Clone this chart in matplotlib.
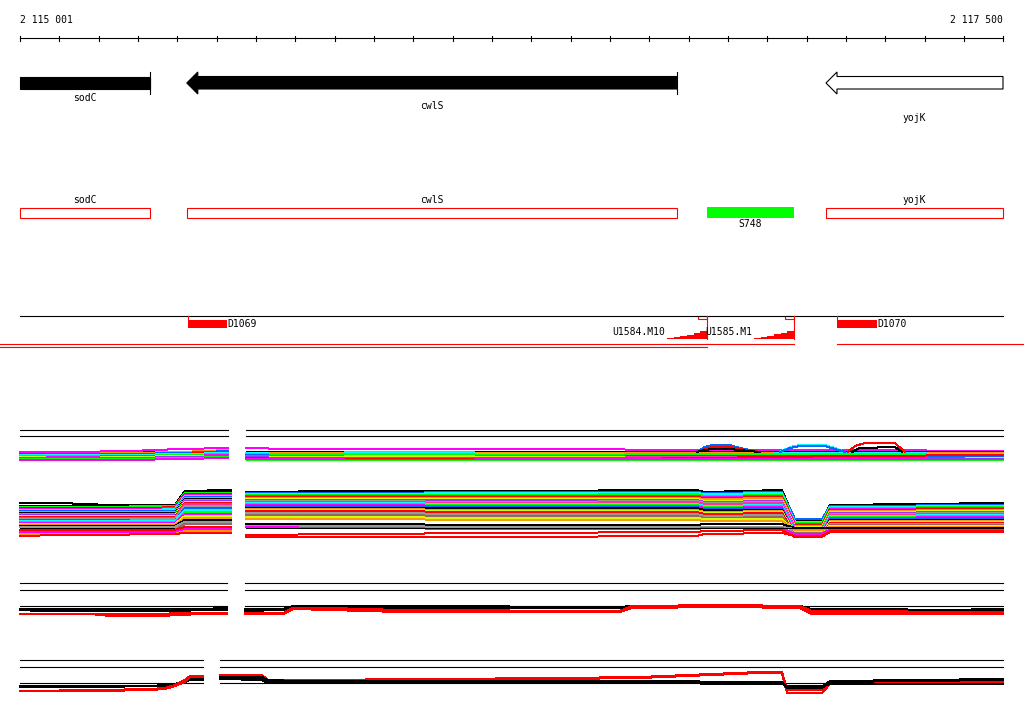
import matplotlib
matplotlib.use("Agg")
import matplotlib.pyplot as plt
from matplotlib.patches import Polygon, Rectangle

# window shown (bp)
WIN_START, WIN_END = 2115001, 2117500

# annotated genes (all on minus strand)
gene_names = ["sodC", "cwlS", "yojK"]
gene_start = [2114900, 2115425, 2117050]
gene_end = [2115331, 2116671, 2117560]
gene_filled = [True, True, False]

# second track: other features
sig_name = "S748"
sig_start, sig_end = 2116747, 2116969

# transcription units / breakpoints
down_names = ["D1069", "D1070"]
down_start = [2115428, 2117078]
down_end = [2115527, 2117180]
up_names = ["U1584.M10", "U1585.M1"]
up_start = [2116646, 2116867]
up_end = [2116747, 2116969]
up_scores = [[1, 2, 3, 4, 6, 8], [1, 2, 3, 5, 6, 8]]
tu_a = [(2114900, 2116969), (2117078, 2117600)]
tu_b = [(2114900, 2116747)]

# ---- panel 1 (many conditions) ----
p1_ref = [110, 104]
p1_segs = [(2115001, 2115530), (2115576, 2117500)]

p1_top_knots_l = [2115001, 2115128, 2115281, 2115408, 2115530]
p1_top_l = [
    ("k", [89, 89, 89, 89, 89]),
    ("k", [88, 88, 88, 88, 88]),
    ("o", [87, 87, 87, 88, 90]),
    ("b", [86, 86, 86, 87, 89]),
    ("r", [86, 85, 85, 86, 88]),
    ("c", [85, 85, 85, 86, 87]),
    ("g", [84, 84, 84, 85, 86]),
    ("m", [83, 83, 84, 84, 85]),
    ("y", [83, 82, 83, 84, 84]),
    ("p", [82, 82, 82, 83, 84]),
    ("g", [81, 81, 81, 82, 83]),
    ("m", [80, 80, 80, 81, 82]),
    ("m", [88, 88, 89, 91, 92]),
]

p1_top_knots_r = [2115576, 2115687, 2115967, 2116348, 2116729, 2117111, 2117500]
p1_top_r = [
    ("m", [92, 91, 91, 91, 90, 90, 89]),
    ("k", [89, 89, 89, 89, 89, 89, 89]),
    ("k", [88, 88, 88, 88, 88, 88, 88]),
    ("o", [87, 87, 88, 87, 87, 87, 87]),
    ("c", [87, 86, 87, 86, 86, 87, 86]),
    ("e", [86, 86, 86, 85, 86, 86, 85]),
    ("g", [85, 85, 85, 85, 85, 85, 84]),
    ("b", [85, 84, 84, 84, 84, 84, 83]),
    ("i", [84, 84, 83, 84, 83, 83, 82]),
    ("y", [83, 83, 84, 83, 82, 82, 82]),
    ("p", [83, 82, 82, 82, 82, 83, 81]),
    ("r", [82, 81, 81, 80, 82, 84, 85]),
    ("m", [81, 81, 80, 81, 81, 81, 80]),
    ("g", [80, 80, 80, 80, 80, 80, 80]),
]

# profiles bulging above the top cluster
p1_bumps = [
    ("b", [2116722, 2116742, 2116760, 2116806, 2116831, 2116882], [88, 93, 95, 95, 92, 88]),
    ("r", [2116722, 2116742, 2116760, 2116806, 2116831, 2116882], [88, 91, 93, 93, 91, 88]),
    ("k", [2116722, 2116742, 2116760, 2116806, 2116831, 2116882], [88, 90, 91, 91, 90, 88]),
    ("c", [2116933, 2116959, 2116984, 2117047, 2117073, 2117098], [88, 93, 95, 95, 92, 88]),
    ("b", [2116933, 2116959, 2116984, 2117047, 2117073, 2117098], [88, 92, 94, 94, 91, 88]),
    ("r", [2117106, 2117124, 2117149, 2117225, 2117251], [88, 94, 97, 97, 88]),
    ("k", [2117116, 2117136, 2117225, 2117243], [88, 92, 93, 88]),
]

p1_bot_knots_l = [2115001, 2115103, 2115230, 2115331, 2115395, 2115420, 2115537]
p1_bot_l = [
    ("k", [37, 37, 35, 35, 35, 49, 50]),
    ("k", [34, 34, 34, 34, 35, 48, 48]),
    ("g", [33, 33, 33, 34, 34, 47, 47]),
    ("r", [32, 32, 32, 32, 33, 46, 46]),
    ("m", [31, 31, 31, 31, 32, 45, 45]),
    ("c", [30, 30, 30, 30, 31, 44, 44]),
    ("b", [29, 29, 29, 29, 29, 43, 43]),
    ("o", [28, 28, 28, 28, 28, 42, 42]),
    ("k", [27, 27, 27, 27, 27, 41, 41]),
    ("g", [26, 26, 26, 26, 26, 40, 40]),
    ("p", [25, 25, 25, 25, 25, 39, 39]),
    ("y", [24, 24, 24, 24, 24, 38, 38]),
    ("r", [23, 23, 23, 23, 23, 37, 37]),
    ("i", [22, 22, 22, 22, 22, 36, 36]),
    ("e", [21, 21, 21, 21, 21, 34, 34]),
    ("b", [20, 20, 20, 19, 19, 32, 32]),
    ("c", [19, 19, 19, 19, 19, 30, 30]),
    ("g", [18, 18, 18, 18, 18, 28, 28]),
    ("m", [17, 17, 17, 17, 17, 26, 26]),
    ("y", [16, 16, 16, 16, 16, 24, 24]),
    ("o", [15, 15, 15, 15, 15, 22, 22]),
    ("k", [14, 14, 14, 14, 14, 20, 20]),
    ("e", [13, 13, 13, 13, 13, 18, 18]),
    ("k", [12, 12, 12, 12, 12, 12, 12]),
    ("n", [10, 10, 10, 10, 10, 16, 16]),
    ("r", [10, 10, 10, 10, 10, 13, 13]),
    ("m", [8, 8, 8, 8, 8, 11, 11]),
    ("o", [6, 6, 6, 6, 6, 9, 9]),
    ("r", [4, 5, 5, 6, 6, 7, 7]),
]

p1_bot_knots_r = [2115576, 2115840, 2116221, 2116722, 2116742, 2116938,
                  2116971, 2117040, 2117060, 2117500]
p1_bot_r = [
    ("k", [48, 49, 49, 50, 48, 50, 20, 20, 35, 37]),
    ("b", [47, 47, 48, 48, 47, 48, 21, 21, 34, 35]),
    ("c", [46, 46, 47, 47, 46, 47, 18, 18, 33, 34]),
    ("g", [45, 45, 45, 46, 44, 45, 17, 17, 32, 33]),
    ("m", [44, 44, 44, 44, 43, 44, 16, 16, 31, 32]),
    ("r", [43, 43, 43, 43, 42, 43, 15, 15, 30, 31]),
    ("o", [42, 42, 42, 42, 41, 42, 14, 14, 29, 30]),
    ("y", [41, 41, 41, 41, 39, 40, 13, 13, 28, 29]),
    ("p", [40, 40, 40, 40, 38, 39, 12, 12, 27, 28]),
    ("e", [39, 39, 38, 39, 37, 38, 11, 11, 26, 27]),
    ("i", [38, 38, 37, 38, 36, 37, 10, 10, 25, 26]),
    ("c", [37, 37, 36, 36, 34, 35, 9, 9, 24, 25]),
    ("g", [36, 36, 35, 35, 33, 34, 8, 8, 23, 24]),
    ("m", [35, 35, 34, 34, 32, 33, 7, 7, 22, 23]),
    ("b", [34, 34, 33, 33, 31, 32, 6, 6, 21, 22]),
    ("k", [32, 32, 32, 32, 30, 30, 5, 5, 20, 20]),
    ("o", [31, 31, 30, 30, 28, 29, 6, 6, 19, 19]),
    ("y", [30, 30, 29, 29, 27, 28, 7, 7, 18, 18]),
    ("r", [29, 29, 28, 28, 26, 27, 5, 5, 17, 17]),
    ("e", [27, 27, 26, 26, 24, 25, 4, 4, 16, 16]),
    ("n", [25, 25, 24, 24, 22, 23, 8, 8, 15, 15]),
    ("y", [23, 23, 22, 22, 21, 21, 9, 9, 14, 14]),
    ("o", [21, 21, 20, 20, 19, 19, 10, 10, 13, 13]),
    ("k", [16, 16, 15, 15, 16, 16, 12, 12, 12, 12]),
    ("e", [14, 14, 13, 13, 13, 13, 11, 11, 11, 11]),
    ("m", [13, 12, 11, 11, 12, 12, 6, 6, 10, 10]),
    ("k", [12, 12, 12, 12, 12, 12, 12, 12, 12, 12]),
    ("r", [5, 6, 7, 8, 9, 10, 3, 3, 9, 9]),
    ("r", [3, 3, 3, 4, 6, 7, 4, 4, 8, 8]),
]

# ---- panel 2 ----
p2_ref = [37, 30, 14]
p2_segs = [(2115001, 2115527), (2115573, 2117500)]
p2_knots_l = [2115001, 2115052, 2115179, 2115230, 2115356, 2115408, 2115459, 2115527]
p2_l = [
    ("k", [11, 11, 11, 11, 11, 11, 11, 12]),
    ("k", [10, 9, 9, 9, 9, 9, 10, 10]),
    ("r", [6, 6, 6, 6, 6, 7, 7, 7]),
    ("r", [6, 6, 6, 4, 4, 5, 6, 6]),
]
p2_knots_r = [2115573, 2115670, 2115695, 2115789, 2115967, 2116526, 2116557,
              2116791, 2116984, 2117014, 2117500]
p2_r = [
    ("k", [11, 11, 14, 14, 14, 13, 14, 14, 14, 11, 10]),
    ("k", [9, 10, 13, 13, 13, 13, 13, 13, 13, 10, 9]),
    ("k", [10, 10, 13, 13, 12, 12, 13, 13, 12, 8, 11]),
    ("r", [6, 7, 12, 12, 10, 9, 14, 15, 14, 9, 8]),
    ("r", [7, 7, 12, 11, 9, 8, 13, 14, 13, 7, 7]),
    ("r", [6, 6, 11, 10, 8, 8, 12, 13, 12, 6, 6]),
]

# ---- panel 3 ----
p3_ref = [35, 28, 12]
p3_segs = [(2115001, 2115466), (2115509, 2117500)]
p3_knots_l = [2115001, 2115204, 2115331, 2115370, 2115395, 2115420, 2115433, 2115466]
p3_l = [
    ("k", [9, 9, 9, 10, 11, 14, 16, 16]),
    ("k", [8, 8, 9, 9, 11, 13, 15, 15]),
    ("r", [4, 5, 6, 7, 10, 15, 19, 19]),
    ("r", [4, 4, 5, 6, 9, 13, 18, 18]),
]
p3_knots_r = [2115509, 2115616, 2115631, 2115713, 2116374, 2116577, 2116882,
              2116938, 2116951, 2117040, 2117060, 2117500]
p3_r = [
    ("r", [20, 20, 15, 15, 17, 18, 23, 23, 5, 5, 12, 13]),
    ("r", [19, 19, 14, 14, 16, 17, 22, 22, 2, 2, 11, 12]),
    ("k", [18, 18, 15, 14, 14, 14, 13, 13, 8, 8, 14, 16]),
    ("k", [17, 16, 13, 13, 13, 13, 12, 12, 7, 7, 13, 15]),
    ("k", [16, 15, 12, 12, 12, 12, 11, 11, 9, 9, 11, 11]),
]

COL = {"k": "#000000", "r": "#ff0000", "g": "#00ff00", "b": "#0066ff",
       "m": "#ff00ff", "c": "#00ffff", "o": "#ff9900", "y": "#ccff00",
       "p": "#9933ff", "e": "#999999", "i": "#ff3399", "n": "#996666"}

# ---------------------------------------------------------------
PX0, PX1 = 20, 1003
BP = (WIN_END - WIN_START) / (PX1 - PX0)   # bp per pixel
fig = plt.figure(figsize=(10.24, 7.14), dpi=100)
ax = fig.add_axes([0, 0, 1, 1])
ax.set_xlim(WIN_START - PX0 * BP, WIN_START + (1024 - PX0) * BP)
ax.set_ylim(714, 0)
ax.axis("off")

FONT = dict(family="DejaVu Sans Mono", fontsize=7)
LW = 0.8
LW_DATA = 0.72


def clip(a, b):
    return max(a, WIN_START), min(b, WIN_END)


# ruler
ax.text(WIN_START, 20, "2 115 001", ha="left", va="center", **FONT)
ax.text(WIN_END, 20, "2 117 500", ha="right", va="center", **FONT)
ax.plot([WIN_START, WIN_END], [38, 38], color="k", lw=LW)
for t in range(WIN_START, WIN_END + 2, 100):
    ax.plot([t, t], [35.5, 41], color="k", lw=LW)

# gene arrows
head = 11 * BP
label_rows = [98, 106, 118]
for name, s0, e0, filled, ly in zip(gene_names, gene_start, gene_end, gene_filled, label_rows):
    s, e = clip(s0, e0)
    if s0 >= WIN_START:
        pts = [(s, 83), (s + head, 72), (s + head, 76.5), (e, 76.5), (e, 89),
               (s + head, 89), (s + head, 94)]
    else:
        pts = [(s, 76.5), (e, 76.5), (e, 89), (s, 89)]
    ax.add_patch(Polygon(pts, closed=True, facecolor="k" if filled else "white",
                         edgecolor="k", lw=LW))
    if e0 <= WIN_END:
        ax.plot([e, e], [72, 94], color="k", lw=LW)
    ax.text((s + e) / 2, ly, name, ha="center", va="center", **FONT)

# second track
for name, s0, e0 in zip(gene_names, gene_start, gene_end):
    s, e = clip(s0, e0)
    ax.add_patch(Rectangle((s, 207.5), e - s, 10, facecolor="none", edgecolor="#ff0000", lw=LW))
    ax.text((s + e) / 2, 200, name, ha="center", va="center", **FONT)
ax.add_patch(Rectangle((sig_start, 207), sig_end - sig_start, 11, facecolor="#00ff00",
                       edgecolor="none"))
ax.text((sig_start + sig_end) / 2, 224, sig_name, ha="center", va="center", **FONT)

# third track
ax.plot([WIN_START, WIN_END], [315.5, 315.5], color="k", lw=LW)
for name, s, e in zip(down_names, down_start, down_end):
    ax.plot([s, s], [315.5, 320], color="#ff0000", lw=LW)
    ax.add_patch(Rectangle((s, 320), e - s, 8, facecolor="#ff0000", edgecolor="none"))
    ax.text(e, 324, name, ha="left", va="center", **FONT)
for i, (name, s, e, sc) in enumerate(zip(up_names, up_start, up_end, up_scores)):
    w = (e - s) / len(sc)
    for j, v in enumerate(sc):
        ax.add_patch(Rectangle((s + j * w, 338.5 - v), w, v, facecolor="#ff0000",
                               edgecolor="none"))
    ax.plot([e, e], [315.5, 338.5], color="#ff0000", lw=LW)
    ax.add_patch(Rectangle((e - 9 * BP, 315.5), 9 * BP, 3.5, facecolor="none",
                           edgecolor="#ff0000", lw=LW))
    if i == 0:
        ax.text(s - 2 * BP, 332, name, ha="right", va="center", **FONT)
    else:
        ax.text(s - 49 * BP, 332, name, ha="left", va="center", **FONT)
for a, b in tu_a:
    ax.plot([a, b], [343.5, 343.5], color="#ff0000", lw=LW)
for a, b in tu_b:
    ax.plot([a, b], [346.5, 346.5], color="#ff0000", lw=LW)


def draw_profiles(knots, profiles, base):
    for c, vals in profiles:
        ax.plot(knots, [base - v for v in vals], color=COL[c], lw=LW_DATA,
                solid_joinstyle="miter", antialiased=False)


def draw_refs(segs, refs, base):
    for a, b in segs:
        for r in refs:
            ax.plot([a, b], [base - r, base - r], color="k", lw=LW)


# panel 1
draw_refs(p1_segs, p1_ref, 540)
draw_profiles(p1_top_knots_l, p1_top_l, 540)
draw_profiles(p1_top_knots_r, p1_top_r, 540)
for c, kn, vals in p1_bumps:
    ax.plot(kn, [540 - v for v in vals], color=COL[c], lw=LW_DATA, antialiased=False)
draw_profiles(p1_bot_knots_l, p1_bot_l, 540)
draw_profiles(p1_bot_knots_r, p1_bot_r, 540)

# panel 2
draw_refs(p2_segs, p2_ref, 620)
draw_profiles(p2_knots_l, p2_l, 620)
draw_profiles(p2_knots_r, p2_r, 620)

# panel 3
draw_refs(p3_segs, p3_ref, 695)
draw_profiles(p3_knots_l, p3_l, 695)
draw_profiles(p3_knots_r, p3_r, 695)

fig.savefig("out.png", dpi=100)
